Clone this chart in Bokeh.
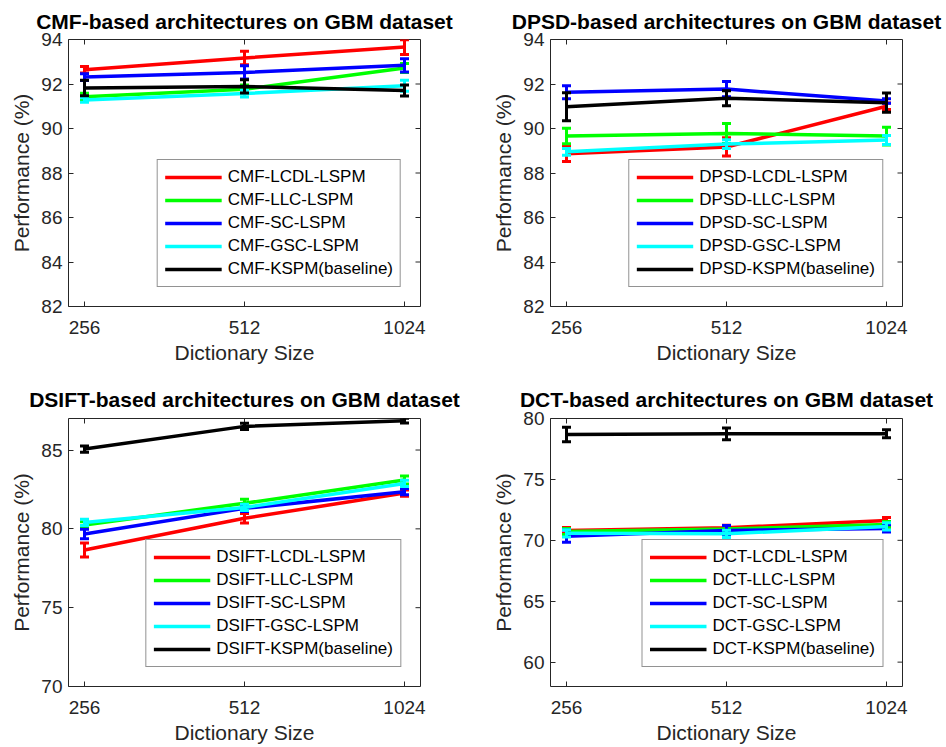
import math
from bokeh.plotting import figure
from bokeh.models import (ColumnDataSource, Legend, LegendItem,
                          FixedTicker, Range1d)
from bokeh.layouts import row, column
from bokeh.embed import file_html
from bokeh.resources import INLINE

# ---------------- data ----------------
dict_sizes = [256, 512, 1024]
series_suffix = ["LCDL-LSPM", "LLC-LSPM", "SC-LSPM", "GSC-LSPM", "KSPM(baseline)"]
series_colors = ["#FF0000", "#00FF00", "#0000FF", "#00FFFF", "#000000"]

# CMF
cmf_means = [[92.64, 93.17, 93.66],
             [91.43, 91.76, 92.72],
             [92.31, 92.52, 92.84],
             [91.28, 91.57, 91.92],
             [91.82, 91.89, 91.71]]
cmf_errs = [[0.15, 0.30, 0.33],
            [0.15, 0.20, 0.20],
            [0.15, 0.30, 0.30],
            [0.10, 0.15, 0.25],
            [0.35, 0.30, 0.25]]

# DPSD
dpsd_means = [[88.87, 89.17, 91.00],
              [89.66, 89.78, 89.66],
              [91.63, 91.77, 91.24],
              [88.95, 89.30, 89.48],
              [90.98, 91.36, 91.16]]
dpsd_errs = [[0.35, 0.41, 0.15],
             [0.35, 0.45, 0.40],
             [0.29, 0.34, 0.10],
             [0.15, 0.20, 0.20],
             [0.63, 0.34, 0.43]]

# DSIFT
dsift_means = [[78.66, 80.67, 82.27],
               [80.25, 81.62, 83.10],
               [79.68, 81.30, 82.36],
               [80.41, 81.36, 82.88],
               [85.06, 86.50, 86.86]]
dsift_errs = [[0.45, 0.30, 0.20],
              [0.20, 0.25, 0.25],
              [0.30, 0.20, 0.20],
              [0.20, 0.20, 0.20],
              [0.20, 0.20, 0.15]]

# DCT
dct_means = [[70.81, 71.03, 71.63],
             [70.72, 70.92, 71.30],
             [70.34, 70.81, 70.98],
             [70.57, 70.53, 71.14],
             [78.69, 78.74, 78.74]]
dct_errs = [[0.25, 0.20, 0.25],
            [0.25, 0.25, 0.25],
            [0.50, 0.40, 0.30],
            [0.30, 0.30, 0.30],
            [0.60, 0.48, 0.33]]

cmf_yticks = [82, 84, 86, 88, 90, 92, 94]
dpsd_yticks = [82, 84, 86, 88, 90, 92, 94]
dsift_yticks = [70, 75, 80, 85]
dct_yticks = [60, 65, 70, 75, 80]

FONT = "Liberation Sans"
AX_COLOR = "#262626"


def make_panel(prefix, means, errs, y_range, yticks, width, height, borders,
               title_standoff):
    left, right, top, bottom = borders
    xs = list(range(len(dict_sizes)))
    xr = Range1d(-0.1, len(dict_sizes) - 0.9)
    yr = Range1d(*y_range)
    p = figure(width=width, height=height, output_backend="svg",
               toolbar_location=None, x_range=xr, y_range=yr,
               min_border_left=left, min_border_right=right,
               min_border_top=top, min_border_bottom=bottom)
    p.title.text = f"{prefix}-based architectures on GBM dataset"
    p.title.text_font = FONT
    p.title.text_font_size = "21px"
    p.title.text_font_style = "bold"
    p.title.text_color = "#000000"
    p.title.align = "center"
    p.title.standoff = title_standoff
    p.grid.visible = False
    p.outline_line_color = AX_COLOR
    p.outline_line_width = 1
    p.background_fill_color = "white"
    p.border_fill_color = "white"

    p.xaxis.ticker = FixedTicker(ticks=xs)
    p.xaxis.major_label_overrides = {i: str(s) for i, s in enumerate(dict_sizes)}
    p.yaxis.ticker = FixedTicker(ticks=yticks)
    p.xaxis.axis_label = "Dictionary Size"
    p.yaxis.axis_label = "Performance (%)"
    for ax in (p.xaxis[0], p.yaxis[0]):
        ax.axis_line_color = None
        ax.major_tick_in = 5
        ax.major_tick_out = 0
        ax.major_tick_line_color = AX_COLOR
        ax.minor_tick_line_color = None
        ax.major_label_text_font = FONT
        ax.major_label_text_font_size = "19px"
        ax.major_label_text_color = AX_COLOR
        ax.axis_label_text_font = FONT
        ax.axis_label_text_font_size = "21px"
        ax.axis_label_text_font_style = "normal"
        ax.axis_label_text_color = AX_COLOR
    p.xaxis.major_label_standoff = 14
    p.xaxis.axis_label_standoff = 4
    p.yaxis.major_label_standoff = 6
    p.yaxis.axis_label_standoff = 5

    # mirrored inward ticks on the top and right edges of the box
    p.ray(x=xs, y=[yr.end] * len(xs), length=5, length_units="screen",
          angle=-math.pi / 2, line_color=AX_COLOR, line_width=1)
    p.ray(x=[xr.end] * len(yticks), y=yticks, length=5, length_units="screen",
          angle=math.pi, line_color=AX_COLOR, line_width=1)

    items = []
    for i, suffix in enumerate(series_suffix):
        c = series_colors[i]
        lower = [m - e for m, e in zip(means[i], errs[i])]
        upper = [m + e for m, e in zip(means[i], errs[i])]
        src = ColumnDataSource(dict(x=xs, y=means[i], lower=lower, upper=upper))
        r = p.line("x", "y", source=src, line_color=c, line_width=3.5)
        p.segment(x0="x", y0="lower", x1="x", y1="upper", source=src,
                  line_color=c, line_width=3)
        p.scatter("x", "lower", source=src, marker="dash", size=9,
                  line_color=c, line_width=3)
        p.scatter("x", "upper", source=src, marker="dash", size=9,
                  line_color=c, line_width=3)
        items.append(LegendItem(label=f"{prefix}-{suffix}", renderers=[r]))

    legend = Legend(items=items, location="bottom_right", margin=19,
                    border_line_color=AX_COLOR, border_line_width=1,
                    background_fill_color="white", background_fill_alpha=1,
                    label_text_font=FONT, label_text_font_size="17px",
                    label_text_color="#000000",
                    glyph_width=57, glyph_height=20, label_height=20,
                    label_standoff=6, spacing=3, padding=7)
    p.add_layout(legend)
    return p


p1 = make_panel("CMF", cmf_means, cmf_errs, (82, 94), cmf_yticks,
                473, 373, (68, 53, 39, 67), 13)
p2 = make_panel("DPSD", dpsd_means, dpsd_errs, (82, 94), dpsd_yticks,
                473, 373, (77, 44, 39, 67), 13)
p3 = make_panel("DSIFT", dsift_means, dsift_errs, (70, 87), dsift_yticks,
                473, 374, (68, 53, 45, 61), 16)
p4 = make_panel("DCT", dct_means, dct_errs, (58, 80), dct_yticks,
                473, 374, (77, 44, 45, 61), 16)

layout = column(row(p1, p2), row(p3, p4))

open("out.html", "w").write(file_html(layout, INLINE))
